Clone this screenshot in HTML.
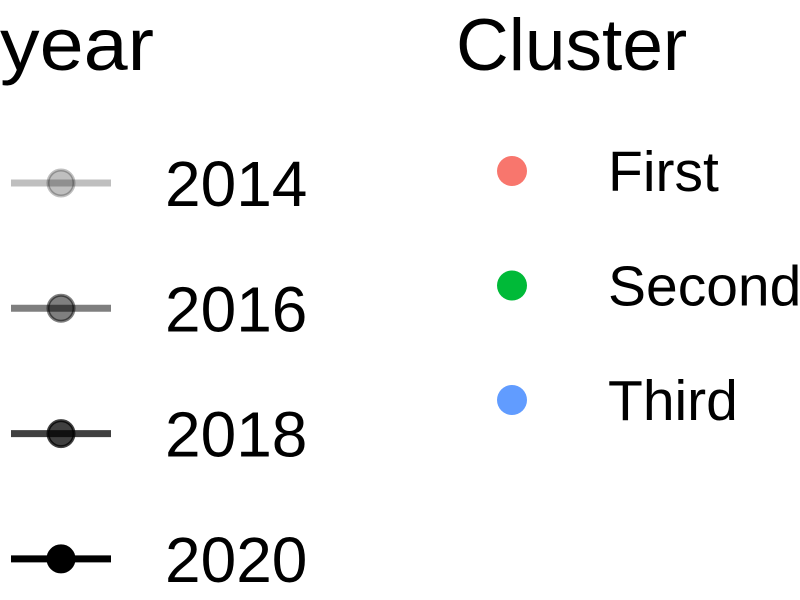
<!DOCTYPE html>
<html><head><meta charset="utf-8"><style>
html,body{margin:0;padding:0;background:#fff;width:800px;height:600px;overflow:hidden}
svg{display:block}
text{font-family:"Liberation Sans",sans-serif;fill:#000}
</style></head><body>
<svg width="800" height="600">
<text x="0" y="70" font-size="74" textLength="154" lengthAdjust="spacingAndGlyphs">year</text>
<text x="456" y="70" font-size="73">Cluster</text>
<g id="years"></g>
<g id="clusters"></g>
</svg>
<script>
const years=["2014","2016","2018","2020"];
const yearAlpha=[0.25,0.5,0.75,1];
const clusters=["First","Second","Third"];
const clusterColors=["#F8766D","#00BA38","#619CFF"];
const NS="http://www.w3.org/2000/svg";
const gy=document.getElementById('years');
years.forEach((y,i)=>{
  const cy=183+i*125.3;
  const a=yearAlpha[i];
  const g=document.createElementNS(NS,'g');
  
  
  const l=document.createElementNS(NS,'line');
  l.setAttribute('x1',11);l.setAttribute('x2',111);l.setAttribute('y1',cy);l.setAttribute('y2',cy);
  l.setAttribute('stroke','rgba(0,0,0,'+a+')');l.setAttribute('stroke-width',7);
  g.appendChild(l);
  const c=document.createElementNS(NS,'circle');
  c.setAttribute('cx',61);c.setAttribute('cy',cy);c.setAttribute('r',13);
  c.setAttribute('fill','rgba(0,0,0,'+a+')');c.setAttribute('stroke','rgba(0,0,0,'+a+')');c.setAttribute('stroke-width',3);
  g.appendChild(c);
  gy.appendChild(g);
  const t=document.createElementNS(NS,'text');
  t.setAttribute('x',165);t.setAttribute('y',cy+23);t.setAttribute('font-size',64);
  t.textContent=y;
  
  
  gy.appendChild(t);
});
const gc=document.getElementById('clusters');
clusters.forEach((n,i)=>{
  const cy=171+i*114.5;
  const c=document.createElementNS(NS,'circle');
  c.setAttribute('cx',512);c.setAttribute('cy',cy);c.setAttribute('r',15);c.setAttribute('fill',clusterColors[i]);
  
  
  gc.appendChild(c);
  const t=document.createElementNS(NS,'text');
  t.setAttribute('x',608);t.setAttribute('y',cy+20);t.setAttribute('font-size',57);
  t.textContent=n;
  
  
  gc.appendChild(t);
});
</script>
</body></html>
